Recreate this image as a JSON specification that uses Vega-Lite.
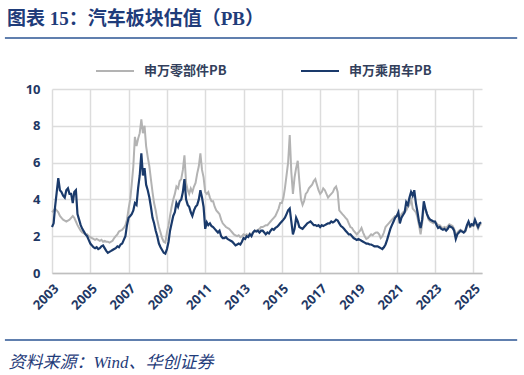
{
  "$schema": "https://vega.github.io/schema/vega-lite/v6.json",
  "width": 430,
  "height": 184,
  "autosize": {"type": "none"},
  "padding": {"left": 52, "top": 89, "right": 42, "bottom": 102},
  "background": "white",
  "title": {"text": "图表 15：汽车板块估值（PB）", "anchor": "start", "frame": "group", "dx": -45, "offset": 8, "font": "Liberation Serif, Noto Sans CJK SC", "fontSize": 19, "fontWeight": "bold", "color": "#1f3c7a"},
  "config": {
    "view": {"stroke": null},
    "axisX": {
      "format": "%Y",
      "labelAngle": -45,
      "labelOverlap": false,
      "labelFont": "Noto Sans",
      "labelFontSize": 13,
      "labelFontWeight": "bold",
      "labelColor": "#1f3864",
      "labelPadding": 9,
      "ticks": false,
      "grid": true,
      "gridColor": "#dcdcdc",
      "gridWidth": 1.5,
      "domainColor": "#bfbfbf",
      "domainWidth": 1.5,
      "titleFont": "Liberation Serif, Noto Sans CJK SC",
      "titleFontStyle": "italic",
      "titleFontWeight": "normal",
      "titleFontSize": 17,
      "titleColor": "#1f3c7a",
      "titleAnchor": "start",
      "titleAlign": "left",
      "titleBaseline": "alphabetic",
      "titleX": -44,
      "titleY": 94
    },
    "axisY": {
      "grid": true,
      "domain": false,
      "ticks": false,
      "labelFont": "Noto Sans",
      "labelFontSize": 13,
      "labelFontWeight": "bold",
      "labelColor": "#1f3864",
      "labelPadding": 12,
      "gridColor": "#dcdcdc",
      "gridWidth": 1.5
    }
  },
  "datasets": {
    "pb": [
      {"d":"2003-01-01","parts":3.3,"cars":2.5},{"d":"2003-02-01","parts":3.4,"cars":2.7},{"d":"2003-03-01","parts":3.5,"cars":3.6},{"d":"2003-04-01","parts":3.4,"cars":4.4},{"d":"2003-05-01","parts":3.3,"cars":5.15},{"d":"2003-06-01","parts":3.1,"cars":4.5},{"d":"2003-07-01","parts":3.0,"cars":4.4},{"d":"2003-08-01","parts":2.9,"cars":4.2},{"d":"2003-09-01","parts":2.85,"cars":4.1},{"d":"2003-10-01","parts":2.8,"cars":4.5},{"d":"2003-11-01","parts":2.85,"cars":4.6},{"d":"2003-12-01","parts":2.9,"cars":4.3},
      {"d":"2004-01-01","parts":3.0,"cars":4.3},{"d":"2004-02-01","parts":3.1,"cars":3.8},{"d":"2004-03-01","parts":3.0,"cars":4.4},{"d":"2004-04-01","parts":2.8,"cars":4.5},{"d":"2004-05-01","parts":2.6,"cars":3.2},{"d":"2004-06-01","parts":2.45,"cars":2.9},{"d":"2004-07-01","parts":2.3,"cars":2.6},{"d":"2004-08-01","parts":2.2,"cars":2.4},{"d":"2004-09-01","parts":2.15,"cars":2.25},{"d":"2004-10-01","parts":2.1,"cars":2.1},{"d":"2004-11-01","parts":2.1,"cars":2.0},{"d":"2004-12-01","parts":2.0,"cars":1.8},
      {"d":"2005-01-01","parts":1.95,"cars":1.6},{"d":"2005-02-01","parts":1.9,"cars":1.5},{"d":"2005-03-01","parts":1.85,"cars":1.4},{"d":"2005-04-01","parts":1.8,"cars":1.35},{"d":"2005-05-01","parts":1.85,"cars":1.4},{"d":"2005-06-01","parts":1.8,"cars":1.3},{"d":"2005-07-01","parts":1.75,"cars":1.35},{"d":"2005-08-01","parts":1.8,"cars":1.45},{"d":"2005-09-01","parts":1.7,"cars":1.5},{"d":"2005-10-01","parts":1.75,"cars":1.35},{"d":"2005-11-01","parts":1.7,"cars":1.2},{"d":"2005-12-01","parts":1.7,"cars":1.1},
      {"d":"2006-01-01","parts":1.65,"cars":1.15},{"d":"2006-02-01","parts":1.7,"cars":1.2},{"d":"2006-03-01","parts":1.75,"cars":1.25},{"d":"2006-04-01","parts":1.9,"cars":1.3},{"d":"2006-05-01","parts":2.0,"cars":1.35},{"d":"2006-06-01","parts":2.1,"cars":1.45},{"d":"2006-07-01","parts":2.25,"cars":1.4},{"d":"2006-08-01","parts":2.3,"cars":1.55},{"d":"2006-09-01","parts":2.35,"cars":1.6},{"d":"2006-10-01","parts":2.45,"cars":1.8},{"d":"2006-11-01","parts":2.6,"cars":2.0},{"d":"2006-12-01","parts":2.9,"cars":2.6},
      {"d":"2007-01-01","parts":3.5,"cars":3.0},{"d":"2007-02-01","parts":4.0,"cars":3.1},{"d":"2007-03-01","parts":4.8,"cars":3.2},{"d":"2007-04-01","parts":5.8,"cars":3.4},{"d":"2007-05-01","parts":7.4,"cars":3.8},{"d":"2007-06-01","parts":6.9,"cars":3.7},{"d":"2007-07-01","parts":7.3,"cars":4.6},{"d":"2007-08-01","parts":7.6,"cars":5.3},{"d":"2007-09-01","parts":8.35,"cars":6.5},{"d":"2007-10-01","parts":7.6,"cars":5.3},{"d":"2007-11-01","parts":8.0,"cars":5.7},{"d":"2007-12-01","parts":6.9,"cars":4.8},
      {"d":"2008-01-01","parts":6.3,"cars":4.5},{"d":"2008-02-01","parts":5.8,"cars":4.1},{"d":"2008-03-01","parts":5.1,"cars":3.6},{"d":"2008-04-01","parts":4.4,"cars":3.0},{"d":"2008-05-01","parts":3.8,"cars":2.7},{"d":"2008-06-01","parts":3.4,"cars":2.3},{"d":"2008-07-01","parts":2.9,"cars":2.0},{"d":"2008-08-01","parts":2.5,"cars":1.6},{"d":"2008-09-01","parts":2.2,"cars":1.4},{"d":"2008-10-01","parts":1.9,"cars":1.25},{"d":"2008-11-01","parts":1.7,"cars":1.1},{"d":"2008-12-01","parts":1.65,"cars":1.05},
      {"d":"2009-01-01","parts":2.2,"cars":1.3},{"d":"2009-02-01","parts":2.6,"cars":1.7},{"d":"2009-03-01","parts":3.1,"cars":2.3},{"d":"2009-04-01","parts":3.6,"cars":2.7},{"d":"2009-05-01","parts":4.0,"cars":3.1},{"d":"2009-06-01","parts":4.3,"cars":3.3},{"d":"2009-07-01","parts":4.7,"cars":3.8},{"d":"2009-08-01","parts":4.6,"cars":3.6},{"d":"2009-09-01","parts":5.0,"cars":3.9},{"d":"2009-10-01","parts":5.1,"cars":4.0},{"d":"2009-11-01","parts":5.6,"cars":4.4},{"d":"2009-12-01","parts":6.4,"cars":5.1},
      {"d":"2010-01-01","parts":4.9,"cars":4.0},{"d":"2010-02-01","parts":4.5,"cars":3.7},{"d":"2010-03-01","parts":4.3,"cars":3.6},{"d":"2010-04-01","parts":4.6,"cars":3.3},{"d":"2010-05-01","parts":4.4,"cars":3.1},{"d":"2010-06-01","parts":4.7,"cars":3.4},{"d":"2010-07-01","parts":4.9,"cars":3.6},{"d":"2010-08-01","parts":5.4,"cars":3.7},{"d":"2010-09-01","parts":5.8,"cars":4.0},{"d":"2010-10-01","parts":6.5,"cars":4.5},{"d":"2010-11-01","parts":5.6,"cars":4.1},{"d":"2010-12-01","parts":5.2,"cars":3.6},
      {"d":"2011-01-01","parts":4.4,"cars":2.4},{"d":"2011-02-01","parts":4.3,"cars":2.75},{"d":"2011-03-01","parts":4.4,"cars":2.6},{"d":"2011-04-01","parts":4.1,"cars":2.7},{"d":"2011-05-01","parts":3.9,"cars":2.55},{"d":"2011-06-01","parts":3.9,"cars":2.5},{"d":"2011-07-01","parts":3.6,"cars":2.4},{"d":"2011-08-01","parts":3.4,"cars":2.3},{"d":"2011-09-01","parts":3.3,"cars":2.2},{"d":"2011-10-01","parts":3.2,"cars":2.3},{"d":"2011-11-01","parts":2.9,"cars":2.0},{"d":"2011-12-01","parts":2.7,"cars":1.9},
      {"d":"2012-01-01","parts":2.6,"cars":1.9},{"d":"2012-02-01","parts":2.5,"cars":1.95},{"d":"2012-03-01","parts":2.45,"cars":1.85},{"d":"2012-04-01","parts":2.4,"cars":1.8},{"d":"2012-05-01","parts":2.3,"cars":1.75},{"d":"2012-06-01","parts":2.2,"cars":1.7},{"d":"2012-07-01","parts":2.1,"cars":1.6},{"d":"2012-08-01","parts":2.05,"cars":1.5},{"d":"2012-09-01","parts":2.0,"cars":1.55},{"d":"2012-10-01","parts":2.05,"cars":1.6},{"d":"2012-11-01","parts":1.95,"cars":1.55},{"d":"2012-12-01","parts":2.0,"cars":1.7},
      {"d":"2013-01-01","parts":2.1,"cars":1.9},{"d":"2013-02-01","parts":2.05,"cars":1.85},{"d":"2013-03-01","parts":2.1,"cars":2.0},{"d":"2013-04-01","parts":2.0,"cars":1.95},{"d":"2013-05-01","parts":2.15,"cars":2.1},{"d":"2013-06-01","parts":2.1,"cars":2.0},{"d":"2013-07-01","parts":2.2,"cars":2.2},{"d":"2013-08-01","parts":2.3,"cars":2.3},{"d":"2013-09-01","parts":2.3,"cars":2.25},{"d":"2013-10-01","parts":2.35,"cars":2.3},{"d":"2013-11-01","parts":2.4,"cars":2.2},{"d":"2013-12-01","parts":2.5,"cars":2.3},
      {"d":"2014-01-01","parts":2.5,"cars":2.3},{"d":"2014-02-01","parts":2.55,"cars":2.2},{"d":"2014-03-01","parts":2.6,"cars":2.1},{"d":"2014-04-01","parts":2.6,"cars":2.2},{"d":"2014-05-01","parts":2.7,"cars":2.15},{"d":"2014-06-01","parts":2.8,"cars":2.3},{"d":"2014-07-01","parts":2.9,"cars":2.4},{"d":"2014-08-01","parts":3.0,"cars":2.35},{"d":"2014-09-01","parts":3.1,"cars":2.45},{"d":"2014-10-01","parts":3.3,"cars":2.5},{"d":"2014-11-01","parts":3.5,"cars":2.6},{"d":"2014-12-01","parts":3.8,"cars":2.7},
      {"d":"2015-01-01","parts":3.8,"cars":2.8},{"d":"2015-02-01","parts":4.1,"cars":2.9},{"d":"2015-03-01","parts":4.6,"cars":3.0},{"d":"2015-04-01","parts":5.3,"cars":3.2},{"d":"2015-05-01","parts":6.0,"cars":3.4},{"d":"2015-06-01","parts":7.5,"cars":3.5},{"d":"2015-07-01","parts":5.5,"cars":2.8},{"d":"2015-08-01","parts":4.3,"cars":2.1},{"d":"2015-09-01","parts":5.2,"cars":2.4},{"d":"2015-10-01","parts":5.7,"cars":3.0},{"d":"2015-11-01","parts":6.1,"cars":2.8},{"d":"2015-12-01","parts":5.0,"cars":2.5},
      {"d":"2016-01-01","parts":4.0,"cars":2.45},{"d":"2016-02-01","parts":3.7,"cars":2.4},{"d":"2016-03-01","parts":3.9,"cars":2.5},{"d":"2016-04-01","parts":4.3,"cars":2.6},{"d":"2016-05-01","parts":4.4,"cars":2.7},{"d":"2016-06-01","parts":4.6,"cars":2.75},{"d":"2016-07-01","parts":4.7,"cars":2.8},{"d":"2016-08-01","parts":4.8,"cars":2.7},{"d":"2016-09-01","parts":5.0,"cars":2.6},{"d":"2016-10-01","parts":5.1,"cars":2.6},{"d":"2016-11-01","parts":4.8,"cars":2.55},{"d":"2016-12-01","parts":4.5,"cars":2.6},
      {"d":"2017-01-01","parts":4.3,"cars":2.5},{"d":"2017-02-01","parts":4.4,"cars":2.6},{"d":"2017-03-01","parts":4.6,"cars":2.55},{"d":"2017-04-01","parts":4.5,"cars":2.6},{"d":"2017-05-01","parts":4.3,"cars":2.65},{"d":"2017-06-01","parts":4.1,"cars":2.7},{"d":"2017-07-01","parts":4.2,"cars":2.7},{"d":"2017-08-01","parts":4.3,"cars":2.8},{"d":"2017-09-01","parts":4.4,"cars":2.75},{"d":"2017-10-01","parts":4.6,"cars":2.8},{"d":"2017-11-01","parts":4.7,"cars":2.9},{"d":"2017-12-01","parts":4.4,"cars":2.85},
      {"d":"2018-01-01","parts":3.4,"cars":2.7},{"d":"2018-02-01","parts":3.3,"cars":2.55},{"d":"2018-03-01","parts":3.2,"cars":2.5},{"d":"2018-04-01","parts":3.1,"cars":2.4},{"d":"2018-05-01","parts":3.0,"cars":2.3},{"d":"2018-06-01","parts":2.9,"cars":2.2},{"d":"2018-07-01","parts":2.7,"cars":2.1},{"d":"2018-08-01","parts":2.5,"cars":2.1},{"d":"2018-09-01","parts":2.45,"cars":2.0},{"d":"2018-10-01","parts":2.3,"cars":1.9},{"d":"2018-11-01","parts":2.2,"cars":1.85},{"d":"2018-12-01","parts":2.1,"cars":1.8},
      {"d":"2019-01-01","parts":2.2,"cars":1.85},{"d":"2019-02-01","parts":2.3,"cars":1.8},{"d":"2019-03-01","parts":2.45,"cars":1.75},{"d":"2019-04-01","parts":2.2,"cars":1.7},{"d":"2019-05-01","parts":2.0,"cars":1.65},{"d":"2019-06-01","parts":1.85,"cars":1.6},{"d":"2019-07-01","parts":1.9,"cars":1.6},{"d":"2019-08-01","parts":2.0,"cars":1.55},{"d":"2019-09-01","parts":2.1,"cars":1.55},{"d":"2019-10-01","parts":2.05,"cars":1.5},{"d":"2019-11-01","parts":2.15,"cars":1.45},{"d":"2019-12-01","parts":2.2,"cars":1.45},
      {"d":"2020-01-01","parts":2.2,"cars":1.45},{"d":"2020-02-01","parts":2.1,"cars":1.4},{"d":"2020-03-01","parts":1.9,"cars":1.35},{"d":"2020-04-01","parts":2.0,"cars":1.3},{"d":"2020-05-01","parts":2.2,"cars":1.4},{"d":"2020-06-01","parts":2.5,"cars":1.55},{"d":"2020-07-01","parts":2.6,"cars":1.8},{"d":"2020-08-01","parts":2.7,"cars":2.1},{"d":"2020-09-01","parts":2.8,"cars":2.4},{"d":"2020-10-01","parts":2.9,"cars":2.6},{"d":"2020-11-01","parts":3.0,"cars":2.8},{"d":"2020-12-01","parts":3.1,"cars":3.0},
      {"d":"2021-01-01","parts":3.1,"cars":3.1},{"d":"2021-02-01","parts":3.2,"cars":3.3},{"d":"2021-03-01","parts":2.9,"cars":2.7},{"d":"2021-04-01","parts":3.2,"cars":3.0},{"d":"2021-05-01","parts":3.3,"cars":3.15},{"d":"2021-06-01","parts":3.35,"cars":3.3},{"d":"2021-07-01","parts":3.4,"cars":3.85},{"d":"2021-08-01","parts":3.6,"cars":3.7},{"d":"2021-09-01","parts":3.7,"cars":4.1},{"d":"2021-10-01","parts":4.1,"cars":4.4},{"d":"2021-11-01","parts":3.5,"cars":4.2},{"d":"2021-12-01","parts":3.4,"cars":4.5},
      {"d":"2022-01-01","parts":3.3,"cars":3.8},{"d":"2022-02-01","parts":3.0,"cars":3.3},{"d":"2022-03-01","parts":2.6,"cars":2.8},{"d":"2022-04-01","parts":2.1,"cars":2.45},{"d":"2022-05-01","parts":2.7,"cars":2.9},{"d":"2022-06-01","parts":3.6,"cars":3.9},{"d":"2022-07-01","parts":3.5,"cars":3.5},{"d":"2022-08-01","parts":3.2,"cars":3.2},{"d":"2022-09-01","parts":2.9,"cars":3.0},{"d":"2022-10-01","parts":2.8,"cars":2.9},{"d":"2022-11-01","parts":2.75,"cars":2.85},{"d":"2022-12-01","parts":2.7,"cars":2.8},
      {"d":"2023-01-01","parts":2.8,"cars":2.8},{"d":"2023-02-01","parts":2.7,"cars":2.6},{"d":"2023-03-01","parts":2.6,"cars":2.45},{"d":"2023-04-01","parts":2.6,"cars":2.5},{"d":"2023-05-01","parts":2.5,"cars":2.4},{"d":"2023-06-01","parts":2.45,"cars":2.35},{"d":"2023-07-01","parts":2.5,"cars":2.4},{"d":"2023-08-01","parts":2.45,"cars":2.3},{"d":"2023-09-01","parts":2.55,"cars":2.4},{"d":"2023-10-01","parts":2.65,"cars":2.55},{"d":"2023-11-01","parts":2.6,"cars":2.5},{"d":"2023-12-01","parts":2.55,"cars":2.45},
      {"d":"2024-01-01","parts":2.4,"cars":2.3},{"d":"2024-02-01","parts":2.0,"cars":1.85},{"d":"2024-03-01","parts":2.2,"cars":2.1},{"d":"2024-04-01","parts":2.3,"cars":2.2},{"d":"2024-05-01","parts":2.35,"cars":2.3},{"d":"2024-06-01","parts":2.3,"cars":2.25},{"d":"2024-07-01","parts":2.2,"cars":2.2},{"d":"2024-08-01","parts":2.25,"cars":2.3},{"d":"2024-09-01","parts":2.5,"cars":2.6},{"d":"2024-10-01","parts":2.7,"cars":2.8},{"d":"2024-11-01","parts":2.5,"cars":2.55},{"d":"2024-12-01","parts":2.55,"cars":2.65},
      {"d":"2025-01-01","parts":2.55,"cars":2.6},{"d":"2025-02-01","parts":2.8,"cars":2.9},{"d":"2025-03-01","parts":2.6,"cars":2.7},{"d":"2025-04-01","parts":2.4,"cars":2.5},{"d":"2025-05-01","parts":2.6,"cars":2.7},{"d":"2025-06-01","parts":2.65,"cars":2.75}
    ]
  },
  "layer": [
    {
      "data": {"name": "pb"},
      "mark": {"type": "line", "strokeWidth": 2},
      "encoding": {
        "x": {
          "field": "d", "type": "temporal",
          "scale": {"domain": [{"year": 2003, "month": 1, "date": 1}, {"year": 2025, "month": 6, "date": 15}]},
          "axis": {"title": "资料来源：Wind、华创证券", "values": [{"year": 2003}, {"year": 2005}, {"year": 2007}, {"year": 2009}, {"year": 2011}, {"year": 2013}, {"year": 2015}, {"year": 2017}, {"year": 2019}, {"year": 2021}, {"year": 2023}, {"year": 2025}]}
        },
        "y": {
          "field": "parts", "type": "quantitative",
          "scale": {"domain": [0, 10], "nice": false},
          "axis": {"title": null, "values": [0, 2, 4, 6, 8, 10]}
        },
        "color": {
          "datum": "申万零部件PB",
          "scale": {"domain": ["申万零部件PB", "申万乘用车PB"], "range": ["#b3b3b3", "#1a3a6b"]},
          "legend": {
            "orient": "none",
            "legendX": 43,
            "legendY": -38,
            "direction": "horizontal",
            "title": null,
            "symbolType": "stroke",
            "symbolSize": 1444,
            "symbolStrokeWidth": 2,
            "labelFont": "Noto Sans CJK SC",
            "labelFontSize": 13,
            "labelFontWeight": "bold",
            "labelColor": "#333f5c",
            "labelOffset": 9,
            "columnPadding": 70
          }
        }
      }
    },
    {
      "data": {"name": "pb"},
      "mark": {"type": "line", "strokeWidth": 2.2},
      "encoding": {
        "x": {
          "field": "d", "type": "temporal",
          "scale": {"domain": [{"year": 2003, "month": 1, "date": 1}, {"year": 2025, "month": 6, "date": 15}]},
          "axis": {"title": "资料来源：Wind、华创证券", "values": [{"year": 2003}, {"year": 2005}, {"year": 2007}, {"year": 2009}, {"year": 2011}, {"year": 2013}, {"year": 2015}, {"year": 2017}, {"year": 2019}, {"year": 2021}, {"year": 2023}, {"year": 2025}]}
        },
        "y": {
          "field": "cars", "type": "quantitative",
          "scale": {"domain": [0, 10], "nice": false},
          "axis": {"title": null, "values": [0, 2, 4, 6, 8, 10]}
        },
        "color": {"datum": "申万乘用车PB"}
      }
    },
    {
      "data": {"values": [{}]},
      "mark": {"type": "rule", "color": "#2b5593", "strokeWidth": 1.5},
      "encoding": {
        "x": {
          "datum": {"year": 2000, "month": 7, "date": 17}, "type": "temporal",
          "scale": {"domain": [{"year": 2003, "month": 1, "date": 1}, {"year": 2025, "month": 6, "date": 15}]},
          "axis": {"title": "资料来源：Wind、华创证券", "values": [{"year": 2003}, {"year": 2005}, {"year": 2007}, {"year": 2009}, {"year": 2011}, {"year": 2013}, {"year": 2015}, {"year": 2017}, {"year": 2019}, {"year": 2021}, {"year": 2023}, {"year": 2025}]}
        },
        "x2": {"datum": {"year": 2027, "month": 4, "date": 17}},
        "y": {
          "datum": 12.77, "type": "quantitative",
          "scale": {"domain": [0, 10], "nice": false},
          "axis": {"title": null, "values": [0, 2, 4, 6, 8, 10]}
        }
      }
    },
    {
      "data": {"values": [{}]},
      "mark": {"type": "rule", "color": "#2b5593", "strokeWidth": 1.5},
      "encoding": {
        "x": {
          "datum": {"year": 2000, "month": 7, "date": 17}, "type": "temporal",
          "scale": {"domain": [{"year": 2003, "month": 1, "date": 1}, {"year": 2025, "month": 6, "date": 15}]},
          "axis": {"title": "资料来源：Wind、华创证券", "values": [{"year": 2003}, {"year": 2005}, {"year": 2007}, {"year": 2009}, {"year": 2011}, {"year": 2013}, {"year": 2015}, {"year": 2017}, {"year": 2019}, {"year": 2021}, {"year": 2023}, {"year": 2025}]}
        },
        "x2": {"datum": {"year": 2027, "month": 4, "date": 17}},
        "y": {
          "datum": -3.64, "type": "quantitative",
          "scale": {"domain": [0, 10], "nice": false},
          "axis": {"title": null, "values": [0, 2, 4, 6, 8, 10]}
        }
      }
    }
  ]
}
